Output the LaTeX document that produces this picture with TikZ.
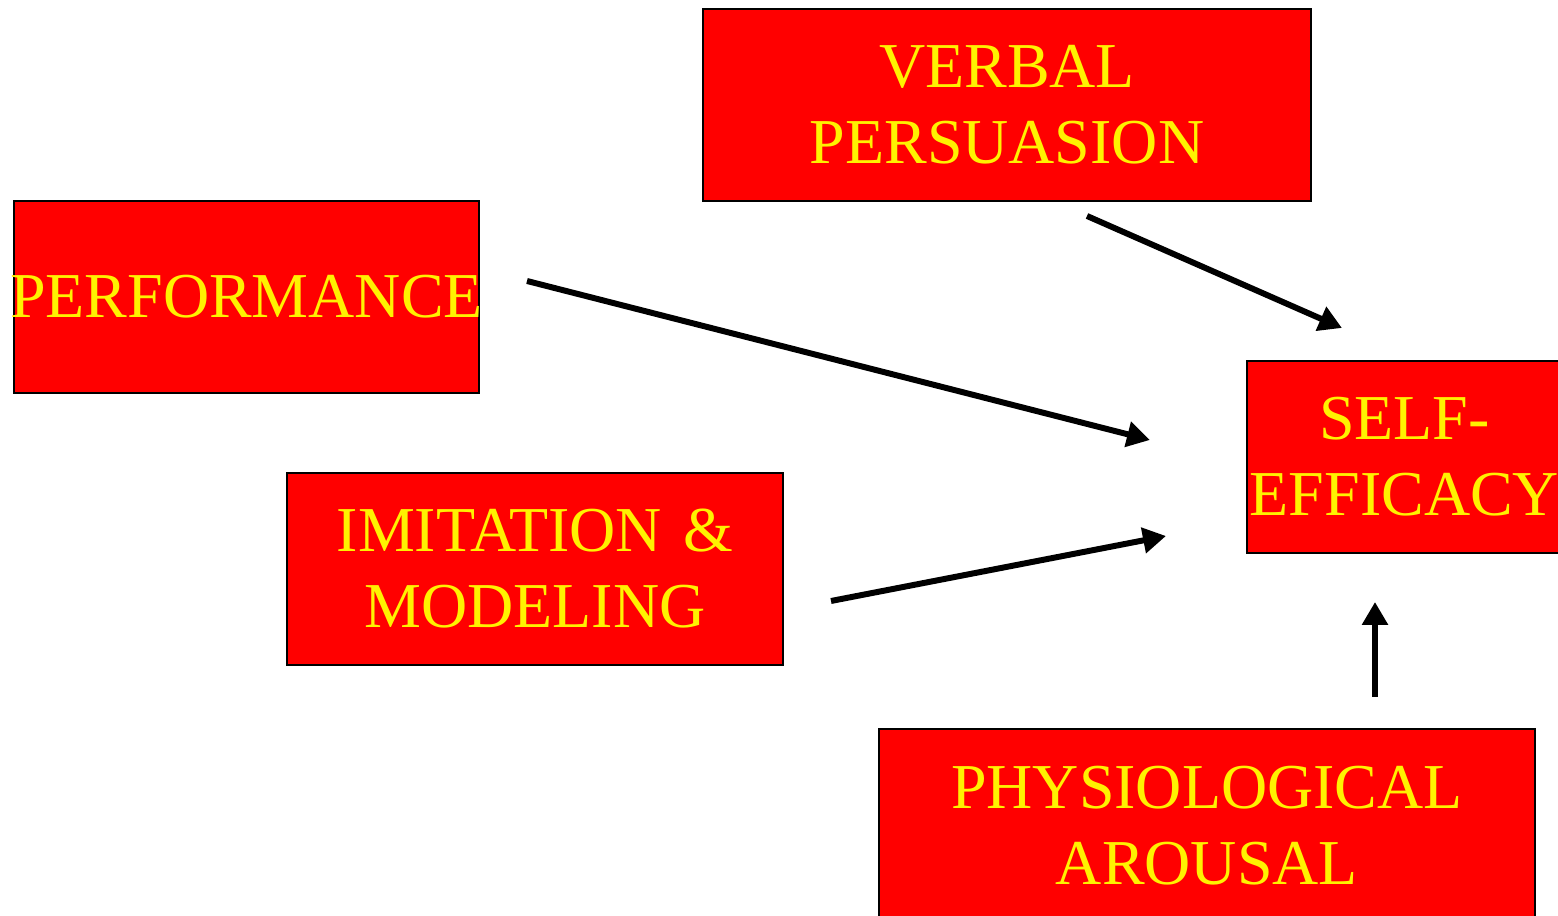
\documentclass[tikz,border=0pt]{standalone}
\usepackage{fontspec}
\setmainfont{Liberation Serif}
\usepackage{tikz}
\usetikzlibrary{arrows.meta,positioning}

\begin{document}
\begin{tikzpicture}[line width=1.7pt,-{Triangle[length=0.23cm,width=0.25cm]}]
  \tikzstyle{source}=[rectangle,draw=black,line width=0.8pt,fill=red,text=yellow,
    inner sep=0pt,align=center,minimum height=1.92cm,
    font=\fontsize{18.2}{21.6}\selectfont]
  \useasboundingbox (0,0) rectangle (15.58,-9.16);
  \clip (0,0) rectangle (15.58,-9.16);
  % the five boxes
  \node[source,text width=6.08cm] (Verbal) at (10.07,-1.05) {VERBAL\\PERSUASION};
  \node[source,text width=4.65cm] (Performance) at (2.465,-2.97) {\makebox[\linewidth]{PERFORMANCE}};
  \node[source,text width=4.96cm] (Imitation) at (5.35,-5.69) {IMITATION \&\\MODELING};
  \node[source,text width=3.15cm] (Efficacy) at (14.045,-4.57) {SELF-\\\makebox[\linewidth]{EFFICACY}};
  \node[source,text width=6.56cm,minimum height=1.94cm] (Arousal) at (12.07,-8.26) {PHYSIOLOGICAL\\AROUSAL};
  % loose arrow ends
  \coordinate (Verbal-out) at (10.87,-2.16);
  \coordinate (Verbal-in) at (13.42,-3.28);
  \coordinate (Performance-out) at (5.27,-2.81);
  \coordinate (Performance-in) at (11.50,-4.40);
  \coordinate (Imitation-out) at (8.31,-6.01);
  \coordinate (Imitation-in) at (11.66,-5.36);
  \coordinate (Arousal-out) at (13.75,-6.97);
  \coordinate (Arousal-in) at (13.75,-6.02);
  \foreach \name in {Verbal,Performance,Imitation,Arousal}
    \draw (\name-out) -- (\name-in);
\end{tikzpicture}
\end{document}
